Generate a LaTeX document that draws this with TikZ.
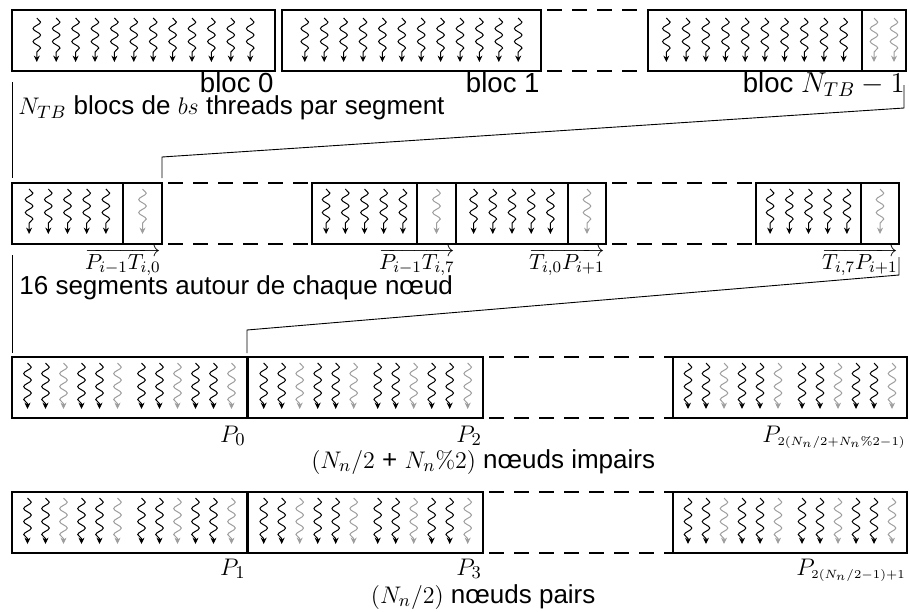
\documentclass[tikz,border=0pt]{standalone}
\usepackage[no-math]{fontspec}
\setmainfont{Liberation Sans}
\usepackage{tikz}
\usetikzlibrary{positioning,arrows.meta,decorations.pathmorphing}
\definecolor{ghost}{gray}{0.62}

\begin{document}
\begin{tikzpicture}[
  blk/.style = {
    draw,
    rectangle,
    line width = 0.9pt,
    inner sep = 0pt,
    outer sep = 0pt,
    minimum height = 30.5pt,
  },
  thread/.style = {
    decorate,
    decoration = {snake, amplitude=1.9pt, segment length=6.5pt, post length=2.5pt},
    line width = 0.5pt,
    -{Stealth[length=3.2pt,width=3pt]},
  },
  gthread/.style = {
    thread,
    draw = ghost,
  },
  gapline/.style = {
    draw,
    line width = 0.9pt,
    dash pattern = on 7.5pt off 5pt,
    dash phase = 9.5pt,
  },
  zoomline/.style = {
    draw,
    line width = 0.45pt,
  },
  lbl/.style = {
    inner sep = 0.5pt,
    font = \fontsize{13}{15}\selectfont,
  },
  blbl/.style = {
    lbl,
    font = \fontsize{13.8}{16}\selectfont,
  },
  vlbl/.style = {
    lbl,
    font = \fontsize{11}{13}\selectfont,
  },
]
  \useasboundingbox (0,0) rectangle (454.5pt,-305.5pt);

  % blocs d'un segment
  \node[blk,minimum width=131.5pt,anchor=north west] (b0) at (6pt,-5pt) {};
  \node[blk,minimum width=129.5pt] (b1) [right=3.5pt of b0] {};
  \node[blk,minimum width=107pt] (bN) [right=53.5pt of b1] {};
  \node[blk,minimum width=22pt] (bNt) [right=0pt of bN] {};
  \draw[gapline] (b1.north east) -- (bN.north west);
  \draw[gapline] (b1.south east) -- (bN.south west);

  \foreach \n in {b0,b1}
    \foreach \i in {0,...,11}
      \draw[thread] ([xshift={(\i-5.5)*9.7pt},yshift=-4pt]\n.north) -- ([xshift={(\i-5.5)*9.7pt},yshift=-26pt]\n.north);
  \foreach \i in {0,...,9}
    \draw[thread] ([xshift={(\i-4.5)*9.85pt},yshift=-4pt]bN.north) -- ([xshift={(\i-4.5)*9.85pt},yshift=-26pt]bN.north);
  \foreach \x in {-5,5}
    \draw[gthread] ([xshift=\x pt,yshift=-4pt]bNt.north) -- ([xshift=\x pt,yshift=-26pt]bNt.north);

  \node[blbl,anchor=base east] (l0) at ([yshift=-10.5pt]b0.south east) {bloc 0};
  \node[blbl,anchor=base east] (l1) at ([yshift=-10.5pt]b1.south east) {bloc 1};
  \node[blbl,anchor=base east] (lN) at ([yshift=-10.5pt]bNt.south east) {bloc $N_{TB}-1$};
  \node[lbl,anchor=base west] (cap1) at ([xshift=2.5pt,yshift=-21.5pt]b0.south west) {$N_{TB}$ blocs de $bs$ threads par segment};

  % segments autour d'un noeud
  \node[blk,minimum width=55.5pt,anchor=north west] (s0) at (6pt,-91.5pt) {};
  \node[blk,minimum width=19.5pt] (s0t) [right=0pt of s0] {};
  \node[blk,minimum width=52.5pt] (s7) [right=75pt of s0t] {};
  \node[blk,minimum width=19.5pt] (s7t) [right=0pt of s7] {};
  \node[blk,minimum width=56pt] (t0) [right=0pt of s7t] {};
  \node[blk,minimum width=19pt] (t0t) [right=0pt of t0] {};
  \node[blk,minimum width=52.5pt] (t7) [right=75pt of t0t] {};
  \node[blk,minimum width=19pt] (t7t) [right=0pt of t7] {};
  \draw[gapline] (s0t.north east) -- (s7.north west);
  \draw[gapline] (s0t.south east) -- (s7.south west);
  \draw[gapline] (t0t.north east) -- (t7.north west);
  \draw[gapline] (t0t.south east) -- (t7.south west);

  \foreach \n in {s0,s7,t0,t7}
    \foreach \i in {0,...,4}
      \draw[thread] ([xshift={(\i-2)*9.6pt},yshift=-3pt]\n.north) -- ([xshift={(\i-2)*9.6pt},yshift=-25.5pt]\n.north);
  \foreach \n in {s0t,s7t,t0t,t7t}
    \draw[gthread] ([yshift=-3pt]\n.north) -- ([yshift=-25.5pt]\n.north);

  \node[vlbl,anchor=base east] (ls0) at ([yshift=-12.5pt]s0t.south east) {$\overrightarrow{P_{i-1}T_{i,0}}$};
  \node[vlbl,anchor=base east] (ls7) at ([yshift=-12.5pt]s7t.south east) {$\overrightarrow{P_{i-1}T_{i,7}}$};
  \node[vlbl,anchor=base east] (lt0) at ([yshift=-12.5pt]t0t.south east) {$\overrightarrow{T_{i,0}P_{i+1}}$};
  \node[vlbl,anchor=base east] (lt7) at ([yshift=-12.5pt]t7t.south east) {$\overrightarrow{T_{i,7}P_{i+1}}$};
  \node[lbl,anchor=base west] (cap2) at ([xshift=3pt,yshift=-25pt]s0.south west) {16 segments autour de chaque nœud};

  % noeuds impairs
  \node[blk,minimum width=117.5pt,anchor=north west] (o0) at (6pt,-178.5pt) {};
  \node[blk,minimum width=117.5pt] (o1) [right=0.6pt of o0] {};
  \node[blk,minimum width=117pt] (oN) [right=94.9pt of o1] {};
  \draw[gapline] (o1.north east) -- (oN.north west);
  \draw[gapline] (o1.south east) -- (oN.south west);

  % noeuds pairs
  \node[blk,minimum width=117.5pt,anchor=north west] (e0) at (6pt,-246pt) {};
  \node[blk,minimum width=117.5pt] (e1) [right=0.6pt of e0] {};
  \node[blk,minimum width=117pt] (eN) [right=94.9pt of e1] {};
  \draw[gapline] (e1.north east) -- (eN.north west);
  \draw[gapline] (e1.south east) -- (eN.south west);

  \foreach \n in {o0,o1,oN,e0,e1,eN}
    \foreach \x/\c in {-51/black,-42/black,-33/ghost,-24/black,-15/black,-6/ghost,6/black,15/black,24/ghost,33/black,42/black,51/ghost}
      \draw[thread,draw=\c] ([xshift=\x pt,yshift=-3pt]\n.north) -- ([xshift=\x pt,yshift=-26pt]\n.north);

  \node[lbl,anchor=base east] (p0) at ([yshift=-12pt]o0.south east) {$P_0$};
  \node[lbl,anchor=base east] (p2) at ([yshift=-12pt]o1.south east) {$P_2$};
  \node[lbl,anchor=base east] (pN) at ([yshift=-12pt]oN.south east) {$P_{\scriptscriptstyle 2(N_n/2+N_n\%2-1)}$};
  \node[lbl,anchor=base] (cap3) at ([yshift=-25pt]o1.south east) {$(N_n/2$ + $N_n\%2)$ nœuds impairs};

  \node[lbl,anchor=base east] (p1) at ([yshift=-11pt]e0.south east) {$P_1$};
  \node[lbl,anchor=base east] (p3) at ([yshift=-11pt]e1.south east) {$P_3$};
  \node[lbl,anchor=base east] (pM) at ([yshift=-11pt]eN.south east) {$P_{\scriptscriptstyle 2(N_n/2-1)+1}$};
  \node[lbl,anchor=base] (cap4) at ([yshift=-25pt]e1.south east) {$(N_n/2)$ nœuds pairs};

  % lignes de zoom
  \draw[zoomline] ([yshift=-5.5pt]b0.south west) -- ([yshift=2.5pt]s0.north west);
  \draw[zoomline] ([xshift=-1pt,yshift=-7pt]bNt.south east) -- ++(0,-11.5pt) -- ([yshift=13pt]s0t.north east) -- ([yshift=2.5pt]s0t.north east);
  \draw[zoomline] ([yshift=-5.5pt]s0.south west) -- ([yshift=2pt]o0.north west);
  \draw[zoomline] ([yshift=-6.5pt]t7t.south east) -- ++(0,-9pt) -- ([yshift=13.5pt]o0.north east) -- ([yshift=2pt]o0.north east);

\end{tikzpicture}
\end{document}
